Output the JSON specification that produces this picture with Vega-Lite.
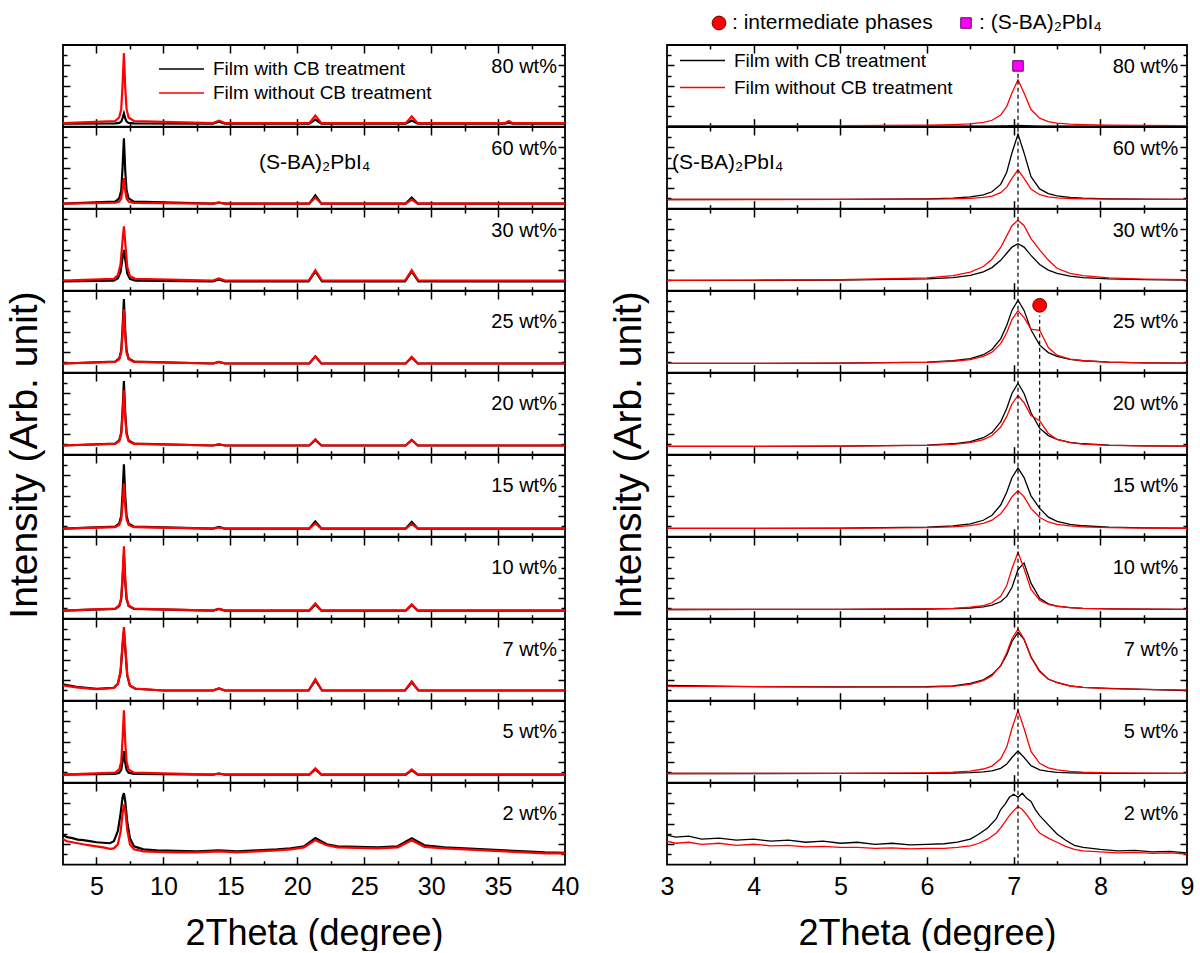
{
"$schema":"https://vega.github.io/schema/vega-lite/v6.json",
"padding":{"left":5,"top":5,"right":5,"bottom":0},
"background":"white",
"config":{"view":{"stroke":"black","strokeWidth":1.8},"font":"Liberation Sans","axis":{"grid":false},"text":{"font":"Liberation Sans","color":"black"}},
"datasets":{
"H":[{"k":"c","x":3.6,"t":": intermediate phases"},{"k":"s","x":6.45,"t":": (S-BA)₂PbI₄"}],
"L":[
{"p":80,"x":2.5,"B":0.3,"R":0.35},{"p":80,"x":6.4,"B":0.33,"R":0.56},{"p":80,"x":6.7,"B":0.38,"R":0.9},{"p":80,"x":6.85,"B":0.5,"R":1.72},{"p":80,"x":6.95,"B":0.85,"R":4.12},{"p":80,"x":7.05,"B":1.3,"R":7.2},{"p":80,"x":7.15,"B":0.8,"R":3.78},{"p":80,"x":7.25,"B":0.5,"R":1.72},{"p":80,"x":7.4,"B":0.38,"R":0.9},{"p":80,"x":7.8,"B":0.33,"R":0.56},{"p":80,"x":13.7,"B":0.3,"R":0.35},{"p":80,"x":14.15,"B":0.5,"R":0.6},{"p":80,"x":14.6,"B":0.3,"R":0.35},{"p":80,"x":20.9,"B":0.3,"R":0.35},{"p":80,"x":21.35,"B":0.7,"R":1.1},{"p":80,"x":21.8,"B":0.3,"R":0.35},{"p":80,"x":28.1,"B":0.3,"R":0.35},{"p":80,"x":28.55,"B":0.6,"R":1.0},{"p":80,"x":29,"B":0.3,"R":0.35},{"p":80,"x":35.5,"B":0.3,"R":0.35},{"p":80,"x":35.8,"B":0.4,"R":0.55},{"p":80,"x":36.1,"B":0.3,"R":0.35},{"p":80,"x":40,"B":0.3,"R":0.35},
{"p":60,"x":2.5,"B":0.5,"R":0.5},{"p":60,"x":6.4,"B":0.69,"R":0.58},{"p":60,"x":6.7,"B":1.01,"R":0.7},{"p":60,"x":6.85,"B":1.78,"R":1.0},{"p":60,"x":6.95,"B":4.02,"R":1.88},{"p":60,"x":7.05,"B":6.9,"R":3.0},{"p":60,"x":7.15,"B":3.7,"R":1.75},{"p":60,"x":7.25,"B":1.78,"R":1.0},{"p":60,"x":7.4,"B":1.01,"R":0.7},{"p":60,"x":7.8,"B":0.69,"R":0.58},{"p":60,"x":13.7,"B":0.5,"R":0.5},{"p":60,"x":14.15,"B":0.6,"R":0.6},{"p":60,"x":14.6,"B":0.5,"R":0.5},{"p":60,"x":20.9,"B":0.5,"R":0.5},{"p":60,"x":21.35,"B":1.3,"R":1.1},{"p":60,"x":21.8,"B":0.5,"R":0.5},{"p":60,"x":28.1,"B":0.5,"R":0.5},{"p":60,"x":28.55,"B":1.1,"R":0.9},{"p":60,"x":29,"B":0.5,"R":0.5},{"p":60,"x":40,"B":0.5,"R":0.5},
{"p":30,"x":2.5,"B":0.9,"R":1.0},{"p":30,"x":6.3,"B":0.99,"R":1.16},{"p":30,"x":6.6,"B":1.21,"R":1.53},{"p":30,"x":6.8,"B":1.83,"R":2.59},{"p":30,"x":6.95,"B":3.23,"R":4.98},{"p":30,"x":7.05,"B":4.0,"R":6.3},{"p":30,"x":7.15,"B":3.07,"R":4.71},{"p":30,"x":7.3,"B":1.68,"R":2.33},{"p":30,"x":7.5,"B":1.15,"R":1.42},{"p":30,"x":7.9,"B":0.99,"R":1.16},{"p":30,"x":13.7,"B":0.9,"R":1.0},{"p":30,"x":14.15,"B":1.1,"R":1.2},{"p":30,"x":14.6,"B":0.9,"R":1.0},{"p":30,"x":20.85,"B":0.9,"R":1.0},{"p":30,"x":21.35,"B":1.9,"R":2.0},{"p":30,"x":21.85,"B":0.9,"R":1.0},{"p":30,"x":28.05,"B":0.9,"R":1.0},{"p":30,"x":28.55,"B":1.9,"R":2.0},{"p":30,"x":29.05,"B":0.9,"R":1.0},{"p":30,"x":40,"B":0.9,"R":1.0},
{"p":25,"x":2.5,"B":0.9,"R":0.9},{"p":25,"x":6.4,"B":1.09,"R":1.06},{"p":25,"x":6.7,"B":1.4,"R":1.32},{"p":25,"x":6.85,"B":2.16,"R":1.96},{"p":25,"x":6.95,"B":4.37,"R":3.82},{"p":25,"x":7.05,"B":7.2,"R":6.2},{"p":25,"x":7.15,"B":4.05,"R":3.55},{"p":25,"x":7.25,"B":2.16,"R":1.96},{"p":25,"x":7.4,"B":1.4,"R":1.32},{"p":25,"x":7.8,"B":1.09,"R":1.06},{"p":25,"x":13.7,"B":0.9,"R":0.9},{"p":25,"x":14.15,"B":1.05,"R":1.05},{"p":25,"x":14.6,"B":0.9,"R":0.9},{"p":25,"x":20.9,"B":0.9,"R":0.9},{"p":25,"x":21.35,"B":1.6,"R":1.6},{"p":25,"x":21.8,"B":0.9,"R":0.9},{"p":25,"x":28.1,"B":0.9,"R":0.9},{"p":25,"x":28.55,"B":1.5,"R":1.55},{"p":25,"x":29,"B":0.9,"R":0.9},{"p":25,"x":40,"B":0.9,"R":0.9},
{"p":20,"x":2.5,"B":0.9,"R":0.9},{"p":20,"x":6.4,"B":1.09,"R":1.06},{"p":20,"x":6.7,"B":1.4,"R":1.33},{"p":20,"x":6.85,"B":2.16,"R":1.98},{"p":20,"x":6.95,"B":4.37,"R":3.87},{"p":20,"x":7.05,"B":7.2,"R":6.3},{"p":20,"x":7.15,"B":4.05,"R":3.6},{"p":20,"x":7.25,"B":2.16,"R":1.98},{"p":20,"x":7.4,"B":1.4,"R":1.33},{"p":20,"x":7.8,"B":1.09,"R":1.06},{"p":20,"x":13.7,"B":0.9,"R":0.9},{"p":20,"x":14.15,"B":1.0,"R":1.0},{"p":20,"x":14.6,"B":0.9,"R":0.9},{"p":20,"x":20.9,"B":0.9,"R":0.9},{"p":20,"x":21.35,"B":1.45,"R":1.5},{"p":20,"x":21.8,"B":0.9,"R":0.9},{"p":20,"x":28.1,"B":0.9,"R":0.9},{"p":20,"x":28.55,"B":1.45,"R":1.45},{"p":20,"x":29,"B":0.9,"R":0.9},{"p":20,"x":40,"B":0.9,"R":0.9},
{"p":15,"x":2.5,"B":0.8,"R":0.8},{"p":15,"x":6.4,"B":0.99,"R":0.93},{"p":15,"x":6.7,"B":1.3,"R":1.15},{"p":15,"x":6.85,"B":2.06,"R":1.68},{"p":15,"x":6.95,"B":4.27,"R":3.22},{"p":15,"x":7.05,"B":7.1,"R":5.2},{"p":15,"x":7.15,"B":3.95,"R":3.0},{"p":15,"x":7.25,"B":2.06,"R":1.68},{"p":15,"x":7.4,"B":1.3,"R":1.15},{"p":15,"x":7.8,"B":0.99,"R":0.93},{"p":15,"x":13.7,"B":0.8,"R":0.8},{"p":15,"x":14.15,"B":0.95,"R":0.9},{"p":15,"x":14.6,"B":0.8,"R":0.8},{"p":15,"x":20.9,"B":0.8,"R":0.8},{"p":15,"x":21.35,"B":1.5,"R":1.3},{"p":15,"x":21.8,"B":0.8,"R":0.8},{"p":15,"x":28.1,"B":0.8,"R":0.8},{"p":15,"x":28.55,"B":1.45,"R":1.25},{"p":15,"x":29,"B":0.8,"R":0.8},{"p":15,"x":40,"B":0.8,"R":0.8},
{"p":10,"x":2.5,"B":0.8,"R":0.8},{"p":10,"x":6.4,"B":0.97,"R":0.99},{"p":10,"x":6.7,"B":1.24,"R":1.3},{"p":10,"x":6.85,"B":1.9,"R":2.06},{"p":10,"x":6.95,"B":3.83,"R":4.27},{"p":10,"x":7.05,"B":6.3,"R":7.1},{"p":10,"x":7.15,"B":3.55,"R":3.95},{"p":10,"x":7.25,"B":1.9,"R":2.06},{"p":10,"x":7.4,"B":1.24,"R":1.3},{"p":10,"x":7.8,"B":0.97,"R":0.99},{"p":10,"x":13.7,"B":0.8,"R":0.8},{"p":10,"x":14.15,"B":0.95,"R":0.95},{"p":10,"x":14.6,"B":0.8,"R":0.8},{"p":10,"x":20.9,"B":0.8,"R":0.8},{"p":10,"x":21.35,"B":1.4,"R":1.5},{"p":10,"x":21.8,"B":0.8,"R":0.8},{"p":10,"x":28.1,"B":0.8,"R":0.8},{"p":10,"x":28.55,"B":1.35,"R":1.4},{"p":10,"x":29,"B":0.8,"R":0.8},{"p":10,"x":40,"B":0.8,"R":0.8},
{"p":7,"x":2.5,"B":1.6,"R":1.5},{"p":7,"x":3.5,"B":1.35,"R":1.3},{"p":7,"x":5,"B":1.15,"R":1.12},{"p":7,"x":6.3,"B":1.27,"R":1.24},{"p":7,"x":6.6,"B":1.65,"R":1.65},{"p":7,"x":6.8,"B":2.78,"R":2.9},{"p":7,"x":6.95,"B":5.35,"R":5.7},{"p":7,"x":7.05,"B":6.8,"R":7.2},{"p":7,"x":7.15,"B":5.05,"R":5.35},{"p":7,"x":7.3,"B":2.45,"R":2.55},{"p":7,"x":7.5,"B":1.46,"R":1.5},{"p":7,"x":7.9,"B":1.17,"R":1.19},{"p":7,"x":10,"B":1.0,"R":1.0},{"p":7,"x":13.7,"B":1.0,"R":1.0},{"p":7,"x":14.15,"B":1.2,"R":1.2},{"p":7,"x":14.6,"B":1.0,"R":1.0},{"p":7,"x":20.85,"B":1.0,"R":1.0},{"p":7,"x":21.35,"B":2.0,"R":2.1},{"p":7,"x":21.85,"B":1.0,"R":1.0},{"p":7,"x":28.05,"B":1.0,"R":1.0},{"p":7,"x":28.55,"B":1.8,"R":1.9},{"p":7,"x":29.05,"B":1.0,"R":1.0},{"p":7,"x":40,"B":1.0,"R":1.0},
{"p":5,"x":2.5,"B":0.8,"R":0.8},{"p":5,"x":6.4,"B":0.87,"R":0.99},{"p":5,"x":6.7,"B":0.98,"R":1.3},{"p":5,"x":6.85,"B":1.26,"R":2.06},{"p":5,"x":6.95,"B":2.07,"R":4.27},{"p":5,"x":7.05,"B":3.1,"R":7.1},{"p":5,"x":7.15,"B":1.95,"R":3.95},{"p":5,"x":7.25,"B":1.26,"R":2.06},{"p":5,"x":7.4,"B":0.98,"R":1.3},{"p":5,"x":7.8,"B":0.87,"R":0.99},{"p":5,"x":13.7,"B":0.8,"R":0.8},{"p":5,"x":14.15,"B":0.9,"R":0.9},{"p":5,"x":14.6,"B":0.8,"R":0.8},{"p":5,"x":20.9,"B":0.8,"R":0.8},{"p":5,"x":21.35,"B":1.3,"R":1.4},{"p":5,"x":21.8,"B":0.8,"R":0.8},{"p":5,"x":28.1,"B":0.8,"R":0.8},{"p":5,"x":28.55,"B":1.2,"R":1.3},{"p":5,"x":29,"B":0.8,"R":0.8},{"p":5,"x":40,"B":0.8,"R":0.8},
{"p":2,"x":2.5,"B":2.9,"R":2.5},{"p":2,"x":2.8,"B":2.7,"R":2.3},{"p":2,"x":3.2,"B":2.6,"R":2.2},{"p":2,"x":3.6,"B":2.45,"R":2.1},{"p":2,"x":4,"B":2.4,"R":2.0},{"p":2,"x":4.5,"B":2.3,"R":1.9},{"p":2,"x":5,"B":2.2,"R":1.8},{"p":2,"x":5.5,"B":2.15,"R":1.7},{"p":2,"x":6,"B":2.1,"R":1.55},{"p":2,"x":6.3,"B":2.3,"R":1.6},{"p":2,"x":6.6,"B":3.3,"R":2.0},{"p":2,"x":6.8,"B":5.0,"R":3.2},{"p":2,"x":6.95,"B":6.6,"R":5.0},{"p":2,"x":7.05,"B":7.0,"R":5.9},{"p":2,"x":7.15,"B":6.2,"R":5.3},{"p":2,"x":7.3,"B":4.2,"R":3.4},{"p":2,"x":7.5,"B":2.6,"R":2.0},{"p":2,"x":7.8,"B":1.8,"R":1.5},{"p":2,"x":8.5,"B":1.5,"R":1.3},{"p":2,"x":9.5,"B":1.4,"R":1.25},{"p":2,"x":11,"B":1.35,"R":1.2},{"p":2,"x":12.5,"B":1.3,"R":1.2},{"p":2,"x":14.15,"B":1.4,"R":1.3},{"p":2,"x":15.5,"B":1.3,"R":1.2},{"p":2,"x":17,"B":1.4,"R":1.3},{"p":2,"x":18.5,"B":1.5,"R":1.4},{"p":2,"x":19.5,"B":1.6,"R":1.5},{"p":2,"x":20.5,"B":1.8,"R":1.7},{"p":2,"x":21.35,"B":2.6,"R":2.4},{"p":2,"x":22.2,"B":2.0,"R":1.9},{"p":2,"x":23,"B":1.8,"R":1.7},{"p":2,"x":24.5,"B":1.75,"R":1.65},{"p":2,"x":26,"B":1.7,"R":1.6},{"p":2,"x":27.5,"B":1.8,"R":1.7},{"p":2,"x":28.55,"B":2.6,"R":2.4},{"p":2,"x":29.5,"B":1.9,"R":1.75},{"p":2,"x":31,"B":1.7,"R":1.6},{"p":2,"x":32.5,"B":1.6,"R":1.5},{"p":2,"x":34,"B":1.5,"R":1.4},{"p":2,"x":35.5,"B":1.4,"R":1.3},{"p":2,"x":37,"B":1.3,"R":1.2},{"p":2,"x":38.5,"B":1.2,"R":1.1},{"p":2,"x":40,"B":1.15,"R":1.1},
{"p":80,"k":"labt","t":"80 wt%"},{"p":60,"k":"labt","t":"60 wt%"},{"p":30,"k":"labt","t":"30 wt%"},{"p":25,"k":"lab","t":"25 wt%"},{"p":20,"k":"lab","t":"20 wt%"},{"p":15,"k":"lab","t":"15 wt%"},{"p":10,"k":"lab","t":"10 wt%"},{"p":7,"k":"lab","t":"7 wt%"},{"p":5,"k":"lab","t":"5 wt%"},{"p":2,"k":"lab","t":"2 wt%"},
{"p":60,"k":"sba","t":"(S-BA)₂PbI₄"}
],
"R":[
{"p":80,"x":3,"B":0.05,"R":0.1},{"p":80,"x":4,"B":0.05,"R":0.11},{"p":80,"x":5,"B":0.05,"R":0.11},{"p":80,"x":6,"B":0.05,"R":0.15},{"p":80,"x":6.3,"B":0.05,"R":0.2},{"p":80,"x":6.5,"B":0.05,"R":0.27},{"p":80,"x":6.65,"B":0.05,"R":0.42},{"p":80,"x":6.75,"B":0.06,"R":0.63},{"p":80,"x":6.85,"B":0.07,"R":1.14},{"p":80,"x":6.92,"B":0.08,"R":1.98},{"p":80,"x":6.98,"B":0.1,"R":3.3},{"p":80,"x":7.05,"B":0.12,"R":4.6},{"p":80,"x":7.12,"B":0.1,"R":3.3},{"p":80,"x":7.2,"B":0.08,"R":1.68},{"p":80,"x":7.3,"B":0.06,"R":0.83},{"p":80,"x":7.4,"B":0.05,"R":0.5},{"p":80,"x":7.5,"B":0.05,"R":0.35},{"p":80,"x":7.65,"B":0.05,"R":0.25},{"p":80,"x":7.8,"B":0.05,"R":0.2},{"p":80,"x":8.1,"B":0.05,"R":0.15},{"p":80,"x":8.5,"B":0.05,"R":0.13},{"p":80,"x":9,"B":0.05,"R":0.11},
{"p":60,"x":3,"B":0.9,"R":0.9},{"p":60,"x":4,"B":0.91,"R":0.9},{"p":60,"x":5,"B":0.92,"R":0.91},{"p":60,"x":6,"B":0.97,"R":0.93},{"p":60,"x":6.3,"B":1.04,"R":0.96},{"p":60,"x":6.5,"B":1.15,"R":1.01},{"p":60,"x":6.65,"B":1.35,"R":1.1},{"p":60,"x":6.75,"B":1.66,"R":1.24},{"p":60,"x":6.85,"B":2.38,"R":1.57},{"p":60,"x":6.92,"B":3.57,"R":2.11},{"p":60,"x":6.98,"B":5.46,"R":2.96},{"p":60,"x":7.05,"B":7.3,"R":3.8},{"p":60,"x":7.12,"B":5.46,"R":2.96},{"p":60,"x":7.2,"B":3.14,"R":1.92},{"p":60,"x":7.3,"B":1.94,"R":1.37},{"p":60,"x":7.4,"B":1.48,"R":1.16},{"p":60,"x":7.5,"B":1.26,"R":1.06},{"p":60,"x":7.65,"B":1.11,"R":1.0},{"p":60,"x":7.8,"B":1.04,"R":0.96},{"p":60,"x":8.1,"B":0.97,"R":0.93},{"p":60,"x":8.5,"B":0.94,"R":0.92},{"p":60,"x":9,"B":0.92,"R":0.91},
{"p":30,"x":3,"B":1.01,"R":1.02},{"p":30,"x":4,"B":1.02,"R":1.03},{"p":30,"x":5,"B":1.04,"R":1.07},{"p":30,"x":6,"B":1.15,"R":1.25},{"p":30,"x":6.3,"B":1.28,"R":1.47},{"p":30,"x":6.5,"B":1.5,"R":1.81},{"p":30,"x":6.65,"B":1.84,"R":2.37},{"p":30,"x":6.75,"B":2.26,"R":3.07},{"p":30,"x":6.85,"B":2.97,"R":4.23},{"p":30,"x":6.92,"B":3.67,"R":5.37},{"p":30,"x":6.98,"B":4.27,"R":6.36},{"p":30,"x":7.05,"B":4.6,"R":6.9},{"p":30,"x":7.12,"B":4.27,"R":6.36},{"p":30,"x":7.2,"B":3.46,"R":5.1},{"p":30,"x":7.3,"B":2.57,"R":4.0},{"p":30,"x":7.4,"B":2.02,"R":3.0},{"p":30,"x":7.5,"B":1.69,"R":2.2},{"p":30,"x":7.65,"B":1.42,"R":1.7},{"p":30,"x":7.8,"B":1.28,"R":1.47},{"p":30,"x":8.1,"B":1.15,"R":1.25},{"p":30,"x":8.5,"B":1.08,"R":1.13},{"p":30,"x":9,"B":1.05,"R":1.07},
{"p":25,"x":3,"B":0.91,"R":0.91},{"p":25,"x":4,"B":0.92,"R":0.92},{"p":25,"x":5,"B":0.94,"R":0.93},{"p":25,"x":6,"B":1.04,"R":1.02},{"p":25,"x":6.3,"B":1.17,"R":1.12},{"p":25,"x":6.5,"B":1.38,"R":1.29},{"p":25,"x":6.65,"B":1.76,"R":1.6},{"p":25,"x":6.75,"B":2.27,"R":2.01},{"p":25,"x":6.85,"B":3.32,"R":2.85},{"p":25,"x":6.92,"B":4.63,"R":3.91},{"p":25,"x":6.98,"B":6.1,"R":5.2},{"p":25,"x":7.05,"B":7.1,"R":6.07},{"p":25,"x":7.12,"B":6.1,"R":5.4},{"p":25,"x":7.2,"B":4.2,"R":4.26},{"p":25,"x":7.3,"B":2.7,"R":4.15},{"p":25,"x":7.4,"B":1.97,"R":2.47},{"p":25,"x":7.5,"B":1.59,"R":1.71},{"p":25,"x":7.65,"B":1.31,"R":1.32},{"p":25,"x":7.8,"B":1.17,"R":1.17},{"p":25,"x":8.1,"B":1.04,"R":1.03},{"p":25,"x":8.5,"B":0.97,"R":0.97},{"p":25,"x":9,"B":0.94,"R":0.94},
{"p":20,"x":3,"B":0.81,"R":0.81},{"p":20,"x":4,"B":0.82,"R":0.81},{"p":20,"x":5,"B":0.84,"R":0.83},{"p":20,"x":6,"B":0.94,"R":0.91},{"p":20,"x":6.3,"B":1.07,"R":1.01},{"p":20,"x":6.5,"B":1.28,"R":1.18},{"p":20,"x":6.65,"B":1.66,"R":1.48},{"p":20,"x":6.75,"B":2.17,"R":1.88},{"p":20,"x":6.85,"B":3.22,"R":2.71},{"p":20,"x":6.92,"B":4.53,"R":3.75},{"p":20,"x":6.98,"B":6.0,"R":4.97},{"p":20,"x":7.05,"B":7.0,"R":5.8},{"p":20,"x":7.12,"B":6.0,"R":5.09},{"p":20,"x":7.2,"B":4.1,"R":3.84},{"p":20,"x":7.3,"B":2.6,"R":3.33},{"p":20,"x":7.4,"B":1.87,"R":2.08},{"p":20,"x":7.5,"B":1.49,"R":1.5},{"p":20,"x":7.65,"B":1.21,"R":1.19},{"p":20,"x":7.8,"B":1.07,"R":1.04},{"p":20,"x":8.1,"B":0.94,"R":0.92},{"p":20,"x":8.5,"B":0.87,"R":0.87},{"p":20,"x":9,"B":0.84,"R":0.84},
{"p":15,"x":3,"B":0.81,"R":0.81},{"p":15,"x":4,"B":0.82,"R":0.81},{"p":15,"x":5,"B":0.84,"R":0.82},{"p":15,"x":6,"B":0.93,"R":0.88},{"p":15,"x":6.3,"B":1.06,"R":0.96},{"p":15,"x":6.5,"B":1.26,"R":1.09},{"p":15,"x":6.65,"B":1.61,"R":1.31},{"p":15,"x":6.75,"B":2.1,"R":1.62},{"p":15,"x":6.85,"B":3.1,"R":2.24},{"p":15,"x":6.92,"B":4.35,"R":3.03},{"p":15,"x":6.98,"B":5.77,"R":3.9},{"p":15,"x":7.05,"B":6.72,"R":4.5},{"p":15,"x":7.12,"B":5.79,"R":3.9},{"p":15,"x":7.2,"B":4.0,"R":2.77},{"p":15,"x":7.3,"B":2.77,"R":1.88},{"p":15,"x":7.4,"B":1.92,"R":1.44},{"p":15,"x":7.5,"B":1.5,"R":1.21},{"p":15,"x":7.65,"B":1.2,"R":1.05},{"p":15,"x":7.8,"B":1.07,"R":0.96},{"p":15,"x":8.1,"B":0.94,"R":0.88},{"p":15,"x":8.5,"B":0.87,"R":0.84},{"p":15,"x":9,"B":0.84,"R":0.82},
{"p":10,"x":3,"B":0.9,"R":0.9},{"p":10,"x":4,"B":0.91,"R":0.91},{"p":10,"x":5,"B":0.92,"R":0.92},{"p":10,"x":6,"B":0.95,"R":0.96},{"p":10,"x":6.3,"B":0.98,"R":1.02},{"p":10,"x":6.5,"B":1.05,"R":1.12},{"p":10,"x":6.65,"B":1.16,"R":1.29},{"p":10,"x":6.75,"B":1.32,"R":1.56},{"p":10,"x":6.85,"B":1.66,"R":2.2},{"p":10,"x":6.92,"B":2.18,"R":3.24},{"p":10,"x":6.98,"B":3.05,"R":4.89},{"p":10,"x":7.05,"B":4.8,"R":6.5},{"p":10,"x":7.12,"B":5.46,"R":4.89},{"p":10,"x":7.2,"B":3.48,"R":2.86},{"p":10,"x":7.3,"B":1.99,"R":1.81},{"p":10,"x":7.4,"B":1.46,"R":1.4},{"p":10,"x":7.5,"B":1.23,"R":1.22},{"p":10,"x":7.65,"B":1.08,"R":1.08},{"p":10,"x":7.8,"B":1.01,"R":1.02},{"p":10,"x":8.1,"B":0.97,"R":0.96},{"p":10,"x":8.5,"B":0.93,"R":0.93},{"p":10,"x":9,"B":0.92,"R":0.92},
{"p":7,"x":3,"B":1.5,"R":1.4},{"p":7,"x":4,"B":1.38,"R":1.37},{"p":7,"x":5,"B":1.36,"R":1.33},{"p":7,"x":6,"B":1.38,"R":1.33},{"p":7,"x":6.3,"B":1.45,"R":1.41},{"p":7,"x":6.5,"B":1.7,"R":1.61},{"p":7,"x":6.65,"B":2.05,"R":1.96},{"p":7,"x":6.75,"B":2.55,"R":2.45},{"p":7,"x":6.85,"B":3.4,"R":3.45},{"p":7,"x":6.92,"B":4.5,"R":4.7},{"p":7,"x":6.98,"B":5.8,"R":6.07},{"p":7,"x":7.05,"B":6.7,"R":7.0},{"p":7,"x":7.12,"B":6.0,"R":6.05},{"p":7,"x":7.2,"B":4.3,"R":4.23},{"p":7,"x":7.3,"B":2.9,"R":2.82},{"p":7,"x":7.4,"B":2.1,"R":2.12},{"p":7,"x":7.5,"B":1.8,"R":1.76},{"p":7,"x":7.65,"B":1.45,"R":1.44},{"p":7,"x":7.8,"B":1.3,"R":1.31},{"p":7,"x":8.1,"B":1.2,"R":1.18},{"p":7,"x":8.5,"B":1.1,"R":1.1},{"p":7,"x":9,"B":1.0,"R":1.04},
{"p":5,"x":3,"B":0.9,"R":0.9},{"p":5,"x":4,"B":0.9,"R":0.91},{"p":5,"x":5,"B":0.91,"R":0.92},{"p":5,"x":6,"B":0.92,"R":0.97},{"p":5,"x":6.3,"B":0.95,"R":1.03},{"p":5,"x":6.5,"B":0.98,"R":1.14},{"p":5,"x":6.65,"B":1.05,"R":1.34},{"p":5,"x":6.75,"B":1.16,"R":1.63},{"p":5,"x":6.85,"B":1.41,"R":2.34},{"p":5,"x":6.92,"B":1.82,"R":3.49},{"p":5,"x":6.98,"B":2.47,"R":5.31},{"p":5,"x":7.05,"B":3.1,"R":7.1},{"p":5,"x":7.12,"B":2.47,"R":5.31},{"p":5,"x":7.2,"B":1.67,"R":3.07},{"p":5,"x":7.3,"B":1.26,"R":1.9},{"p":5,"x":7.4,"B":1.1,"R":1.46},{"p":5,"x":7.5,"B":1.02,"R":1.25},{"p":5,"x":7.65,"B":0.97,"R":1.1},{"p":5,"x":7.8,"B":0.95,"R":1.03},{"p":5,"x":8.1,"B":0.92,"R":0.97},{"p":5,"x":8.5,"B":0.91,"R":0.94},{"p":5,"x":9,"B":0.91,"R":0.92},
{"p":2,"x":3,"B":2.9,"R":2.3},{"p":2,"x":3.1,"B":2.7,"R":2.1},{"p":2,"x":3.25,"B":2.8,"R":2.2},{"p":2,"x":3.4,"B":2.5,"R":2.0},{"p":2,"x":3.6,"B":2.6,"R":2.1},{"p":2,"x":3.8,"B":2.4,"R":1.9},{"p":2,"x":4,"B":2.5,"R":2.0},{"p":2,"x":4.2,"B":2.3,"R":1.85},{"p":2,"x":4.4,"B":2.4,"R":1.9},{"p":2,"x":4.6,"B":2.2,"R":1.75},{"p":2,"x":4.8,"B":2.3,"R":1.8},{"p":2,"x":5,"B":2.1,"R":1.7},{"p":2,"x":5.2,"B":2.2,"R":1.7},{"p":2,"x":5.4,"B":2.0,"R":1.6},{"p":2,"x":5.6,"B":2.1,"R":1.65},{"p":2,"x":5.8,"B":1.95,"R":1.55},{"p":2,"x":6,"B":2.0,"R":1.6},{"p":2,"x":6.2,"B":2.05,"R":1.6},{"p":2,"x":6.35,"B":2.2,"R":1.7},{"p":2,"x":6.5,"B":2.5,"R":1.85},{"p":2,"x":6.6,"B":3.0,"R":2.1},{"p":2,"x":6.7,"B":3.6,"R":2.5},{"p":2,"x":6.8,"B":4.5,"R":3.1},{"p":2,"x":6.85,"B":5.4,"R":3.6},{"p":2,"x":6.9,"B":5.9,"R":4.2},{"p":2,"x":6.95,"B":6.6,"R":4.8},{"p":2,"x":7.0,"B":6.9,"R":5.3},{"p":2,"x":7.05,"B":6.6,"R":5.7},{"p":2,"x":7.1,"B":7.0,"R":5.4},{"p":2,"x":7.15,"B":6.5,"R":4.9},{"p":2,"x":7.2,"B":6.2,"R":4.3},{"p":2,"x":7.25,"B":5.4,"R":3.6},{"p":2,"x":7.3,"B":4.8,"R":3.1},{"p":2,"x":7.4,"B":3.9,"R":2.6},{"p":2,"x":7.5,"B":3.0,"R":2.2},{"p":2,"x":7.6,"B":2.4,"R":1.8},{"p":2,"x":7.7,"B":1.9,"R":1.5},{"p":2,"x":7.8,"B":1.7,"R":1.35},{"p":2,"x":8.0,"B":1.5,"R":1.25},{"p":2,"x":8.2,"B":1.35,"R":1.15},{"p":2,"x":8.4,"B":1.4,"R":1.2},{"p":2,"x":8.6,"B":1.25,"R":1.1},{"p":2,"x":8.8,"B":1.3,"R":1.15},{"p":2,"x":9,"B":1.15,"R":1.05},
{"p":80,"k":"labt","t":"80 wt%"},{"p":60,"k":"labt","t":"60 wt%"},{"p":30,"k":"labt","t":"30 wt%"},{"p":25,"k":"lab","t":"25 wt%"},{"p":20,"k":"lab","t":"20 wt%"},{"p":15,"k":"lab","t":"15 wt%"},{"p":10,"k":"lab","t":"10 wt%"},{"p":7,"k":"lab","t":"7 wt%"},{"p":5,"k":"lab","t":"5 wt%"},{"p":2,"k":"lab","t":"2 wt%"},
{"p":60,"k":"sba","t":"(S-BA)₂PbI₄"},
{"p":80,"k":"dl","x":7.05,"y0":0,"y1":5.4},{"p":60,"k":"dl","x":7.05,"y0":0,"y1":8},{"p":30,"k":"dl","x":7.05,"y0":0,"y1":8},{"p":25,"k":"dl","x":7.05,"y0":0,"y1":8},{"p":20,"k":"dl","x":7.05,"y0":0,"y1":8},{"p":15,"k":"dl","x":7.05,"y0":0,"y1":8},{"p":10,"k":"dl","x":7.05,"y0":0,"y1":8},{"p":7,"k":"dl","x":7.05,"y0":0,"y1":8},{"p":5,"k":"dl","x":7.05,"y0":0,"y1":8},{"p":2,"k":"dl","x":7.05,"y0":0,"y1":8},
{"p":25,"k":"dl","x":7.3,"y0":0,"y1":5.6},{"p":20,"k":"dl","x":7.3,"y0":0,"y1":8},{"p":15,"k":"dl","x":7.3,"y0":0,"y1":8},
{"p":80,"k":"sq","x":7.05,"y":5.95},{"p":25,"k":"ci","x":7.3,"y":6.6}
]},
"resolve":{"legend":{"color":"independent"}},
"spacing":30,
"hconcat":[
{"spacing":2,"vconcat":[
 {"width":502,"height":36,"view":{"stroke":null},"data":{"values":[{"a":1}]},"mark":{"type":"point","opacity":0},"encoding":{}},
 {"data":{"name":"L"},"spacing":0,"bounds":"flush",
  "facet":{"row":{"field":"p","type":"ordinal","sort":"descending","title":"Intensity (Arb. unit)","header":{"labels":false,"titleFontSize":39,"titleFont":"Liberation Sans","titleFontWeight":"normal","titleColor":"black","titlePadding":8}}},
  "spec":{"width":502,"height":81.7,
   "layer":[
    {"transform":[{"filter":"isValid(datum.B)"},{"fold":["B","R"],"as":["s","y"]}],
     "mark":{"type":"line","strokeWidth":2.2,"clip":true},
     "encoding":{
      "x":{"field":"x","type":"quantitative","scale":{"domain":[2.5,40],"nice":false,"zero":false},"axis":{"orient":"bottom","values":[5,7.5,10,12.5,15,17.5,20,22.5,25,27.5,30,32.5,35,37.5],"labels":false,"title":null,"domain":false,"grid":false,"tickColor":"black","tickWidth":1.5,"tickSize":{"condition":{"test":"datum.value % 5 === 0","value":-8},"value":-4}}},
      "y":{"field":"y","type":"quantitative","scale":{"domain":[0,8],"nice":false,"zero":false},"axis":{"orient":"left","values":[1,2,3,4,5,6,7],"labels":false,"title":null,"domain":false,"grid":false,"tickColor":"black","tickWidth":1.5,"tickSize":{"condition":{"test":"datum.value % 2 === 0","value":-7},"value":-4}}},
      "color":{"field":"s","type":"nominal","scale":{"domain":["B","R"],"range":["#000000","#ff0000"]},
       "legend":{"orient":"none","legendX":95,"legendY":52,"title":null,"symbolType":"stroke","symbolSize":2025,"symbolStrokeWidth":1.5,"clipHeight":24,"labelFontSize":19,"labelFont":"Liberation Sans","labelColor":"black","labelOffset":8,"labelLimit":400,"rowPadding":0,
        "labelExpr":"datum.label == 'B' ? 'Film with CB treatment' : 'Film without  CB treatment'"}}}},
    {"transform":[{"filter":"datum.k == 'lab'"}],
     "mark":{"type":"text","align":"right","baseline":"middle","fontSize":20,"font":"Liberation Sans","color":"black"},
     "encoding":{
      "x":{"datum":39.4,"type":"quantitative","scale":{"domain":[2.5,40],"nice":false,"zero":false},"axis":{"orient":"top","values":[5,7.5,10,12.5,15,17.5,20,22.5,25,27.5,30,32.5,35,37.5],"labels":false,"title":null,"domain":false,"grid":false,"tickColor":"black","tickWidth":1.5,"tickSize":{"condition":{"test":"datum.value % 5 === 0","value":-8},"value":-4}}},
      "y":{"datum":5.0,"type":"quantitative","scale":{"domain":[0,8],"nice":false,"zero":false},"axis":{"orient":"right","values":[1,2,3,4,5,6,7],"labels":false,"title":null,"domain":false,"grid":false,"tickColor":"black","tickWidth":1.5,"tickSize":{"condition":{"test":"datum.value % 2 === 0","value":-7},"value":-4}}},
      "text":{"field":"t"}}},
    {"transform":[{"filter":"datum.k == 'labt'"}],
     "mark":{"type":"text","align":"right","baseline":"middle","fontSize":20,"font":"Liberation Sans","color":"black"},
     "encoding":{"x":{"datum":39.4,"type":"quantitative","axis":null},"y":{"datum":5.8,"type":"quantitative","axis":null},"text":{"field":"t"}}},
    {"transform":[{"filter":"datum.k == 'sba'"}],
     "mark":{"type":"text","align":"center","baseline":"middle","fontSize":21,"font":"Liberation Sans","color":"black"},
     "encoding":{"x":{"datum":21.3,"type":"quantitative","axis":null},"y":{"datum":4.5,"type":"quantitative","axis":null},"text":{"field":"t"}}}
   ],
   "resolve":{"axis":{"x":"independent","y":"independent"}}},
  "resolve":{"axis":{"x":"independent","y":"independent"}}},
 {"width":502,"height":1,"view":{"stroke":null},"data":{"values":[{"x":5}]},"mark":{"type":"point","opacity":0},
  "encoding":{"x":{"field":"x","type":"quantitative","scale":{"domain":[2.5,40],"nice":false,"zero":false},"axis":{"values":[5,10,15,20,25,30,35,40],"ticks":false,"domain":false,"grid":false,"labelFontSize":25,"labelFont":"Liberation Sans","labelColor":"black","labelPadding":1,"labelFlush":false,"title":"2Theta (degree)","titleFontSize":36,"titleFont":"Liberation Sans","titleFontWeight":"normal","titleColor":"black","titlePadding":17}}}}
]},
{"spacing":2,"vconcat":[
 {"width":520,"height":36,"view":{"stroke":null},"data":{"name":"H"},
  "layer":[
   {"transform":[{"filter":"datum.k == 'c'"}],"mark":{"type":"point","shape":"circle","filled":true,"size":190,"color":"#ff0000","stroke":"#700000","strokeWidth":1,"opacity":1},
    "encoding":{"x":{"field":"x","type":"quantitative","scale":{"domain":[3,9],"nice":false,"zero":false},"axis":null}}},
   {"transform":[{"filter":"datum.k == 's'"}],"mark":{"type":"point","shape":"square","filled":true,"size":110,"color":"#ff00ff","stroke":"#600060","strokeWidth":1,"opacity":1},
    "encoding":{"x":{"field":"x","type":"quantitative","scale":{"domain":[3,9],"nice":false,"zero":false},"axis":null}}},
   {"mark":{"type":"text","align":"left","baseline":"middle","dx":13,"fontSize":21,"font":"Liberation Sans","color":"black"},
    "encoding":{"x":{"field":"x","type":"quantitative","scale":{"domain":[3,9],"nice":false,"zero":false},"axis":null},"text":{"field":"t"}}}
  ]},
 {"data":{"name":"R"},"spacing":0,"bounds":"flush",
  "facet":{"row":{"field":"p","type":"ordinal","sort":"descending","title":"Intensity (Arb. unit)","header":{"labels":false,"titleFontSize":39,"titleFont":"Liberation Sans","titleFontWeight":"normal","titleColor":"black","titlePadding":8}}},
  "spec":{"width":520,"height":81.7,
   "layer":[
    {"transform":[{"filter":"isValid(datum.B)"},{"fold":["B","R"],"as":["s","y"]}],
     "mark":{"type":"line","strokeWidth":1.3,"clip":true},
     "encoding":{
      "x":{"field":"x","type":"quantitative","scale":{"domain":[3,9],"nice":false,"zero":false},"axis":{"orient":"bottom","values":[3.5,4,4.5,5,5.5,6,6.5,7,7.5,8,8.5],"labels":false,"title":null,"domain":false,"grid":false,"tickColor":"black","tickWidth":1.5,"tickSize":{"condition":{"test":"datum.value % 1 === 0","value":-8},"value":-4}}},
      "y":{"field":"y","type":"quantitative","scale":{"domain":[0,8],"nice":false,"zero":false},"axis":{"orient":"left","values":[1,2,3,4,5,6,7],"labels":false,"title":null,"domain":false,"grid":false,"tickColor":"black","tickWidth":1.5,"tickSize":{"condition":{"test":"datum.value % 2 === 0","value":-7},"value":-4}}},
      "color":{"field":"s","type":"nominal","scale":{"domain":["B","R"],"range":["#000000","#ff0000"]},
       "legend":{"orient":"none","legendX":12,"legendY":42,"title":null,"symbolType":"stroke","symbolSize":2025,"symbolStrokeWidth":1.5,"clipHeight":27,"labelFontSize":19,"labelFont":"Liberation Sans","labelColor":"black","labelOffset":8,"labelLimit":400,"rowPadding":0,
        "labelExpr":"datum.label == 'B' ? 'Film with CB treatment' : 'Film without  CB treatment'"}}}},
    {"transform":[{"filter":"datum.k == 'dl'"}],
     "mark":{"type":"rule","color":"black","strokeWidth":1.2,"strokeDash":[4,3]},
     "encoding":{"x":{"field":"x","type":"quantitative","axis":null},"y":{"field":"y0","type":"quantitative","axis":null},"y2":{"field":"y1"}}},
    {"transform":[{"filter":"datum.k == 'lab'"}],
     "mark":{"type":"text","align":"right","baseline":"middle","fontSize":20,"font":"Liberation Sans","color":"black"},
     "encoding":{
      "x":{"datum":8.9,"type":"quantitative","scale":{"domain":[3,9],"nice":false,"zero":false},"axis":{"orient":"top","values":[3.5,4,4.5,5,5.5,6,6.5,7,7.5,8,8.5],"labels":false,"title":null,"domain":false,"grid":false,"tickColor":"black","tickWidth":1.5,"tickSize":{"condition":{"test":"datum.value % 1 === 0","value":-8},"value":-4}}},
      "y":{"datum":5.0,"type":"quantitative","scale":{"domain":[0,8],"nice":false,"zero":false},"axis":{"orient":"right","values":[1,2,3,4,5,6,7],"labels":false,"title":null,"domain":false,"grid":false,"tickColor":"black","tickWidth":1.5,"tickSize":{"condition":{"test":"datum.value % 2 === 0","value":-7},"value":-4}}},
      "text":{"field":"t"}}},
    {"transform":[{"filter":"datum.k == 'labt'"}],
     "mark":{"type":"text","align":"right","baseline":"middle","fontSize":20,"font":"Liberation Sans","color":"black"},
     "encoding":{"x":{"datum":8.9,"type":"quantitative","axis":null},"y":{"datum":5.8,"type":"quantitative","axis":null},"text":{"field":"t"}}},
    {"transform":[{"filter":"datum.k == 'sba'"}],
     "mark":{"type":"text","align":"center","baseline":"middle","fontSize":21,"font":"Liberation Sans","color":"black"},
     "encoding":{"x":{"datum":3.7,"type":"quantitative","axis":null},"y":{"datum":4.5,"type":"quantitative","axis":null},"text":{"field":"t"}}},
    {"transform":[{"filter":"datum.k == 'sq'"}],
     "mark":{"type":"point","shape":"square","filled":true,"size":110,"color":"#ff00ff","stroke":"#600060","strokeWidth":1,"opacity":1},
     "encoding":{"x":{"field":"x","type":"quantitative","axis":null},"y":{"field":"y","type":"quantitative","axis":null}}},
    {"transform":[{"filter":"datum.k == 'ci'"}],
     "mark":{"type":"point","shape":"circle","filled":true,"size":190,"color":"#ff0000","stroke":"#700000","strokeWidth":1,"opacity":1},
     "encoding":{"x":{"field":"x","type":"quantitative","axis":null},"y":{"field":"y","type":"quantitative","axis":null}}}
   ],
   "resolve":{"axis":{"x":"independent","y":"independent"}}},
  "resolve":{"axis":{"x":"independent","y":"independent"}}},
 {"width":520,"height":1,"view":{"stroke":null},"data":{"values":[{"x":5}]},"mark":{"type":"point","opacity":0},
  "encoding":{"x":{"field":"x","type":"quantitative","scale":{"domain":[3,9],"nice":false,"zero":false},"axis":{"values":[3,4,5,6,7,8,9],"ticks":false,"domain":false,"grid":false,"labelFontSize":25,"labelFont":"Liberation Sans","labelColor":"black","labelPadding":1,"labelFlush":false,"title":"2Theta (degree)","titleFontSize":36,"titleFont":"Liberation Sans","titleFontWeight":"normal","titleColor":"black","titlePadding":17}}}}
]}
]
}
